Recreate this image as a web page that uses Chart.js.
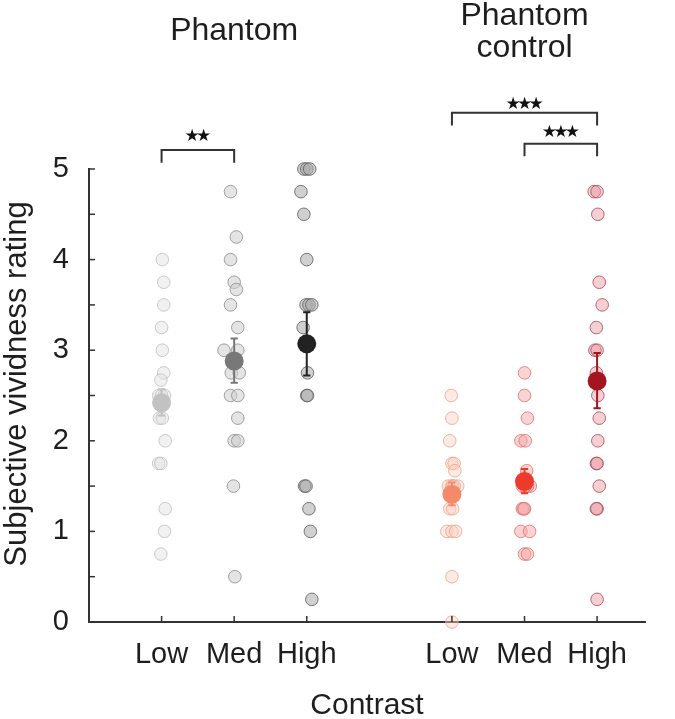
<!DOCTYPE html>
<html>
<head>
<meta charset="utf-8">
<script src="https://cdn.jsdelivr.net/npm/chart.js@4.4.0/dist/chart.umd.min.js"></script>
<style>
  html, body { margin: 0; padding: 0; background: #fff; }
</style>
</head>
<body>
<canvas id="chart" width="675" height="719"></canvas>
<script>
// categories on the x axis
const tickNames = ['Low', 'Med', 'High', 'Low', 'Med', 'High'];
const tickPos = [1, 2, 3, 5, 6, 7];
const groupTitles = [['Phantom'], ['Phantom', 'control']];
const groupTitlePos = [2, 6];
const yTitle = 'Subjective vividness rating';

// ratings per subject, with small horizontal jitter
const phantomLow = [4, 3.75, 3.5, 3.25, 3, 2.75, 2.67, 2.5, 2.5, 2.5, 2.25, 2.25, 2, 1.75, 1.75, 1.25, 1, 0.75];
const phantomLowJit = [0.01, 0.03, 0.03, 0, 0.01, 0.03, -0.01, -0.04, 0.04, 0, -0.03, 0.01, 0.05, -0.04, -0.01, 0.05, 0.04, -0.01];
const phantomMed = [4.75, 4.25, 4, 3.75, 3.67, 3.5, 3.25, 3, 3, 2.75, 2.75, 2.5, 2.5, 2.25, 2, 2, 1.5, 0.5];
const phantomMedJit = [-0.05, 0.03, -0.05, 0, 0.03, -0.05, 0.05, -0.14, 0.05, -0.04, 0.07, -0.05, 0.05, 0.05, 0, 0.05, -0.01, 0.01];
const phantomHigh = [5, 5, 5, 4.75, 4.5, 4, 3.5, 3.5, 3.5, 3.25, 2.75, 2.5, 2.5, 1.5, 1.5, 1.25, 1, 0.25];
const phantomHighJit = [-0.04, 0, 0.04, -0.08, -0.04, 0, -0.01, 0.03, 0.07, -0.05, 0.01, 0, 0.01, -0.03, -0.01, 0.03, 0.05, 0.07];
const controlLow = [2.5, 2.25, 2, 1.75, 1.75, 1.67, 1.5, 1.5, 1.5, 1.5, 1.5, 1.25, 1.25, 1, 1, 1, 0.5, 0];
const controlLowJit = [-0.01, 0, -0.03, 0, 0.03, 0.04, -0.05, 0.01, 0.08, 0, 0.03, -0.03, 0.01, -0.07, 0, 0.05, 0, 0];
const controlMed = [2.75, 2.5, 2.25, 2, 2, 1.67, 1.5, 1.5, 1.5, 1.5, 1.5, 1.25, 1.25, 1.25, 1, 1, 0.75, 0.75];
const controlMedJit = [0, 0, 0.04, -0.05, 0.01, 0.03, 0.08, 0, -0.03, 0.04, 0.01, -0.03, 0, -0.01, -0.05, 0.07, 0, 0.04];
const controlHigh = [4.75, 4.75, 4.5, 3.75, 3.5, 3.25, 3, 3, 2.75, 2.5, 2.25, 2, 1.75, 1.75, 1.5, 1.25, 1.25, 0.25];
const controlHighJit = [-0.04, 0, 0.01, 0.03, 0.07, -0.01, -0.03, 0, -0.01, 0.01, 0.03, 0.01, -0.01, 0, 0.03, 0, -0.01, 0];

// group means and error bar ends
const means = [2.42, 2.88, 3.07, 1.41, 1.55, 2.66];
const errLow = [2.28, 2.64, 2.72, 1.29, 1.42, 2.36];
const errHigh = [2.57, 3.13, 3.42, 1.54, 1.69, 2.97];

// significance brackets
const bracketFrom = [1, 5, 6];
const bracketTo = [2, 7, 7];
const bracketTop = [5.21, 5.62, 5.28];
const bracketStarY = [5.36, 5.71, 5.40];
const bracketStars = ['\u2605\u2605', '\u2605\u2605\u2605', '\u2605\u2605\u2605'];

const allVals = [phantomLow, phantomMed, phantomHigh, controlLow, controlMed, controlHigh];
const allJit = [phantomLowJit, phantomMedJit, phantomHighJit, controlLowJit, controlMedJit, controlHighJit];

const pointFill = ['rgba(228,228,228,0.5)', 'rgba(205,205,205,0.55)', 'rgba(170,170,170,0.55)',
                   'rgba(250,208,192,0.45)', 'rgba(246,170,170,0.5)', 'rgba(228,150,160,0.45)'];
const pointEdge = ['rgba(190,190,190,0.8)', 'rgba(140,140,140,0.8)', 'rgba(90,90,90,0.8)',
                   'rgba(236,160,140,0.8)', 'rgba(226,110,110,0.8)', 'rgba(170,70,85,0.8)'];
const meanColor = ['#c2c2c2', '#787878', '#222222', '#f58a6a', '#ee3a2a', '#a3161f'];

const FONT = '"Liberation Sans", Arial, Helvetica, sans-serif';
const capW = 0.05;
const legH = 0.14;

const datasets = [];

// single subjects
allVals.forEach((vals, g) => {
    datasets.push({
        type: 'scatter',
        data: vals.map((v, i) => ({ x: tickPos[g] + allJit[g][i], y: v })),
        pointRadius: 6.3,
        pointBackgroundColor: pointFill[g],
        pointBorderColor: pointEdge[g],
        pointBorderWidth: 1,
        clip: false,
        order: 3
    });
});

// error bars with caps
means.forEach((m, g) => {
    const c = tickPos[g];
    datasets.push({
        type: 'line',
        data: [
            { x: c, y: errLow[g] }, { x: c, y: errHigh[g] }, { x: c, y: null },
            { x: c - capW, y: errHigh[g] }, { x: c + capW, y: errHigh[g] }, { x: c, y: null },
            { x: c - capW, y: errLow[g] }, { x: c + capW, y: errLow[g] }
        ],
        borderColor: meanColor[g],
        borderWidth: 2,
        pointRadius: 0,
        spanGaps: false,
        clip: false,
        order: 2
    });
});

// means
means.forEach((m, g) => {
    datasets.push({
        type: 'scatter',
        data: [{ x: tickPos[g], y: m }],
        pointRadius: 9.5,
        pointBackgroundColor: meanColor[g],
        pointBorderColor: meanColor[g],
        pointBorderWidth: 0,
        clip: false,
        order: 1
    });
});

// brackets
bracketFrom.forEach((f, b) => {
    datasets.push({
        type: 'line',
        data: [
            { x: f, y: bracketTop[b] - legH }, { x: f, y: bracketTop[b] },
            { x: bracketTo[b], y: bracketTop[b] }, { x: bracketTo[b], y: bracketTop[b] - legH }
        ],
        borderColor: '#333',
        borderWidth: 2,
        pointRadius: 0,
        clip: false,
        order: 4
    });
});

// inward ticks, stars, y title and group titles
const extras = {
    id: 'extras',
    afterDraw(chart) {
        const ctx = chart.ctx;
        const xs = chart.scales.x;
        const ys = chart.scales.y;
        const area = chart.chartArea;
        ctx.save();
        ctx.strokeStyle = '#333';
        ctx.lineWidth = 1.5;
        ys.ticks.forEach(t => {
            const py = ys.getPixelForValue(t.value);
            ctx.beginPath();
            ctx.moveTo(area.left, py);
            ctx.lineTo(area.left + 6, py);
            ctx.stroke();
        });
        xs.ticks.forEach(t => {
            const px = xs.getPixelForValue(t.value);
            ctx.beginPath();
            ctx.moveTo(px, area.bottom);
            ctx.lineTo(px, area.bottom - 6);
            ctx.stroke();
        });

        // stars, one glyph at a time so they sit close together
        ctx.fillStyle = '#111';
        ctx.textAlign = 'center';
        ctx.textBaseline = 'middle';
        ctx.font = '17px "DejaVu Sans", sans-serif';
        bracketStars.forEach((s, b) => {
            const px = xs.getPixelForValue((bracketFrom[b] + bracketTo[b]) / 2);
            const py = ys.getPixelForValue(bracketStarY[b]);
            const n = s.length;
            for (let i = 0; i < n; i++) {
                ctx.fillText(s[i], px + (i - (n - 1) / 2) * 11.5, py);
            }
        });

        ctx.fillStyle = '#1e1e1e';
        ctx.font = '32px ' + FONT;
        groupTitles.forEach((lines, g) => {
            const px = xs.getPixelForValue(groupTitlePos[g]);
            const y0 = lines.length === 1 ? 31 : 16;
            lines.forEach((line, i) => {
                ctx.fillText(line, px, y0 + i * 32);
            });
        });

        ctx.font = '31px ' + FONT;
        ctx.translate(17, 384);
        ctx.rotate(-Math.PI / 2);
        ctx.fillText(yTitle, 0, 0);
        ctx.restore();
    }
};

new Chart(document.getElementById('chart'), {
    type: 'scatter',
    data: { datasets: datasets },
    options: {
        responsive: false,
        animation: false,
        layout: { padding: { left: 0, right: 30, top: 169, bottom: 0 } },
        plugins: { legend: { display: false }, tooltip: { enabled: false } },
        scales: {
            x: {
                type: 'linear',
                min: 0,
                max: 7.66,
                afterBuildTicks: scale => {
                    scale.ticks = tickPos.map(v => ({ value: v }));
                },
                afterFit: scale => { scale.height = 97; },
                grid: { display: false, drawTicks: false },
                border: { display: true, color: '#333', width: 2 },
                ticks: {
                    autoSkip: false,
                    maxRotation: 0,
                    padding: 16,
                    color: '#1e1e1e',
                    font: { family: FONT, size: 29 },
                    callback: (v, i) => tickNames[i]
                },
                title: {
                    display: true,
                    text: 'Contrast',
                    color: '#1e1e1e',
                    font: { family: FONT, size: 30, lineHeight: 0.9 },
                    padding: { top: 0, bottom: 0 }
                }
            },
            y: {
                min: 0,
                max: 5,
                afterFit: scale => { scale.width = 89; },
                grid: { display: false, drawTicks: false },
                border: { display: true, color: '#333', width: 2 },
                ticks: {
                    stepSize: 0.5,
                    padding: 20,
                    color: '#1e1e1e',
                    font: { family: FONT, size: 29 },
                    callback: v => (Number.isInteger(v) ? String(v) : '')
                }
            }
        }
    },
    plugins: [extras]
});
</script>
</body>
</html>
